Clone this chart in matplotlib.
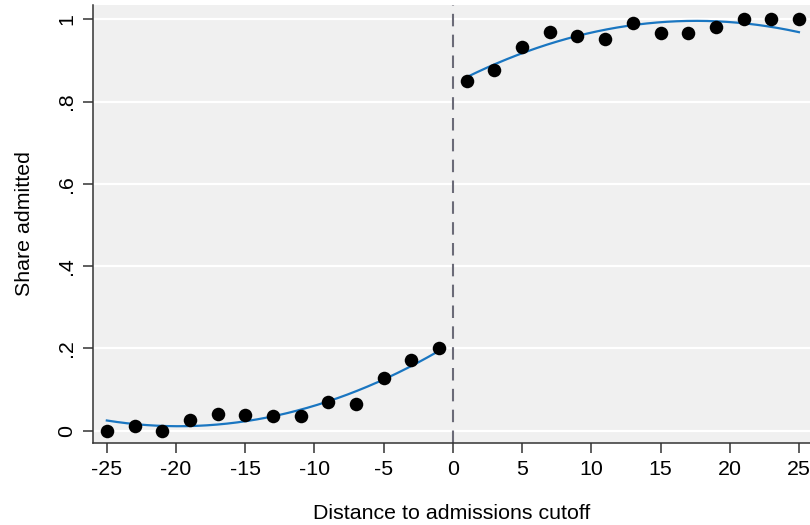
import numpy as np
import matplotlib
matplotlib.use("Agg")
import matplotlib.pyplot as plt

plt.rcParams['font.family'] = ['Liberation Sans', 'DejaVu Sans']
plt.rcParams['axes.unicode_minus'] = False

# binned share admitted by distance to cutoff
x_left = [-25, -23, -21, -19, -17, -15, -13, -11, -9, -7, -5, -3, -1]
y_left = [0.0, 0.012, 0.0, 0.026, 0.041, 0.038, 0.036, 0.036, 0.070, 0.065, 0.127, 0.172, 0.202]
x_right = [1, 3, 5, 7, 9, 11, 13, 15, 17, 19, 21, 23, 25]
y_right = [0.849, 0.876, 0.934, 0.969, 0.959, 0.952, 0.990, 0.968, 0.968, 0.981, 1.0, 1.0, 1.0]

# fitted (quadratic) values read at each bin
fit_left = [0.023, 0.017, 0.012, 0.012, 0.017, 0.022, 0.033, 0.050, 0.072, 0.097, 0.123, 0.157, 0.195]
fit_right = [0.857, 0.890, 0.921, 0.943, 0.960, 0.973, 0.986, 0.994, 0.995, 0.994, 0.990, 0.981, 0.971]

x_ticks = [-25, -20, -15, -10, -5, 0, 5, 10, 15, 20, 25]
y_ticks = [0, 0.2, 0.4, 0.6, 0.8, 1.0]
y_ticklabels = ["0", ".2", ".4", ".6", ".8", "1"]

fig = plt.figure(figsize=(8.1, 5.25), dpi=100)
ax = fig.add_axes([0.1148, 0.1562, 0.8852, 0.8343])
ax.set_facecolor('#f0f0f0')

for yt in y_ticks:
    ax.axhline(yt, color='white', lw=1.6, zorder=1)

ax.axvline(0, color='#6b6b78', lw=1.5, dashes=(6, 4), zorder=2)

# smooth the fitted curve on each side of the cutoff
for xs, fs in [(x_left, fit_left), (x_right, fit_right)]:
    coef = np.polyfit(xs, fs, 2)
    xx = np.linspace(min(xs), max(xs), 200)
    ax.plot(xx, np.polyval(coef, xx), color='#1a76c1', lw=1.6, zorder=3)

ax.scatter(x_left + x_right, y_left + y_right, s=95, color='black', zorder=4, linewidths=0)

ax.set_xlim(-26.0, 25.8)
ax.set_ylim(-0.030, 1.035)
ax.set_xticks(x_ticks)
ax.set_yticks(y_ticks)
ax.set_yticklabels(y_ticklabels, rotation=90, va='center')
ax.tick_params(axis='both', direction='out', length=7, width=1.1, color='#333333',
               labelsize=15.4, pad=5)

for side in ['top', 'right']:
    ax.spines[side].set_visible(False)
for side in ['left', 'bottom']:
    ax.spines[side].set_color('#333333')
    ax.spines[side].set_linewidth(1.1)

ax.set_xlabel('Distance to admissions cutoff', fontsize=15.4, labelpad=18)
ax.set_ylabel('Share admitted', fontsize=15.4, labelpad=17)

fig.savefig('out.png', dpi=100)
